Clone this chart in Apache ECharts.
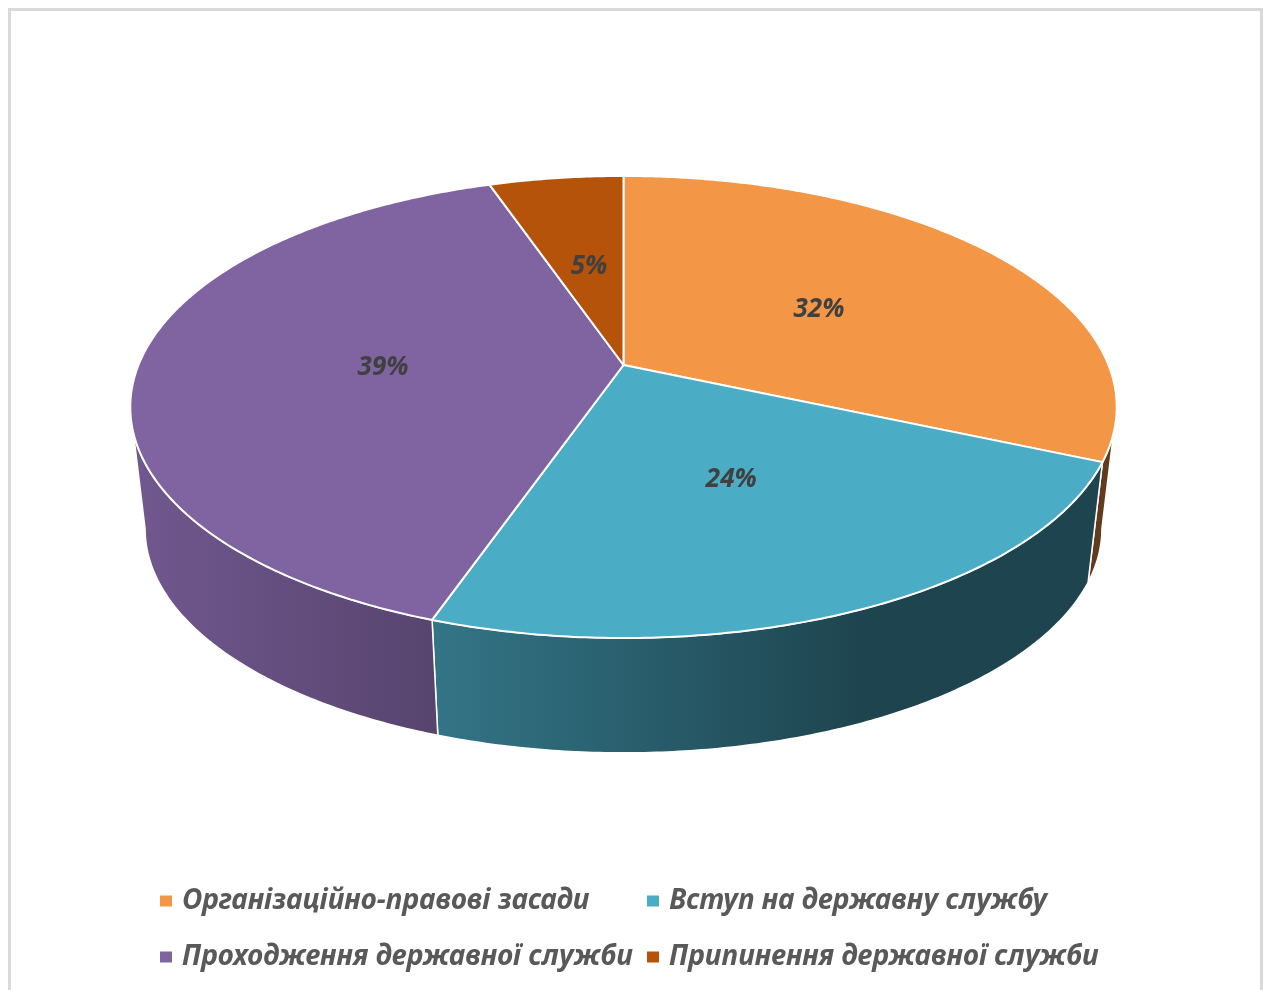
<!DOCTYPE html>
<html>
<head>
<meta charset="utf-8">
<style>
  html, body { margin: 0; padding: 0; background: #fff; }
  #frame { position: absolute; left: 8px; top: 8px; width: 1249px; height: 1000px; border: 3px solid #d9d9d9; }
  #main { position: absolute; left: 0; top: 0; width: 1265px; height: 990px; }
</style>
<script src="https://cdn.jsdelivr.net/npm/echarts@6/dist/echarts.min.js"></script>
</head>
<body>
<div id="frame"></div>
<div id="main"></div>
<script>
// дані діаграми
var categories = ['Організаційно-правові засади', 'Вступ на державну службу', 'Проходження державної служби', 'Припинення державної служби'];
var values = [31.6, 23.7, 39.45, 5.25];
var colors = ['#F39646', '#4BACC6', '#8064A2', '#B45309'];

(function () {
  var myChart = echarts.init(document.getElementById('main'));

  // параметри "3D" проекції
  var CX = 623.5, CY = 365, R = 485, A = 223.4, P = 0.1818, K = 0.97, D = 123;
  var total = values.reduce(function (a, b) { return a + b; }, 0);
  var thR = Math.acos(-P), thL = 2 * Math.PI - Math.acos(-P);

  // t = 0 верхня грань, t = 1 нижня
  function proj(th, r, t) {
    var s = Math.sin(th), c = Math.cos(th);
    var w = 1 + P * r * c;
    var k = t ? K : 1;
    return [CX + R * r * s / w * k, CY - A * r * c / w * k + D * t];
  }
  function shade(hex, k) {
    var n = parseInt(hex.slice(1), 16);
    var r = Math.round(((n >> 16) & 255) * k), g = Math.round(((n >> 8) & 255) * k), b = Math.round((n & 255) * k);
    return 'rgb(' + r + ',' + g + ',' + b + ')';
  }
  function arc(a0, a1, t) {
    var pts = [], steps = Math.max(2, Math.ceil((a1 - a0) / 0.01));
    for (var i = 0; i <= steps; i++) pts.push(proj(a0 + (a1 - a0) * i / steps, 1, t));
    return pts;
  }

  function renderItem(params, api) {
    var idx = params.dataIndex;
    var start = 0;
    for (var i = 0; i < idx; i++) start += values[i];
    var a0 = start / total * 2 * Math.PI;
    var a1 = (start + api.value(0)) / total * 2 * Math.PI;
    var color = colors[idx];
    var children = [];

    // верхня грань
    var top = [proj(0, 0, 0)].concat(arc(a0, a1, 0));
    children.push({
      type: 'polygon', z2: 10,
      shape: { points: top },
      style: { fill: color, stroke: '#fff', lineWidth: 2, lineJoin: 'round' }
    });

    // бічна стінка (тільки видима частина)
    var s0 = Math.max(a0, thR), s1 = Math.min(a1, thL);
    if (s1 > s0) {
      var side = arc(s0, s1, 0).concat(arc(s0, s1, 1).reverse());
      children.push({
        type: 'polygon', z2: 1,
        shape: { points: side },
        style: {
          fill: {
            type: 'linear', x: CX - 493, y: 0, x2: CX + 493, y2: 0, global: true,
            colorStops: [
              { offset: 0, color: shade(color, 0.88) },
              { offset: 0.74, color: shade(color, 0.40) },
              { offset: 1, color: shade(color, 0.40) }
            ]
          },
          stroke: '#fff', lineWidth: 1.5
        }
      });
    }

    // підпис відсотка
    var lp = proj((a0 + a1) / 2, 0.5, 0);
    children.push({
      type: 'text', z2: 20,
      x: lp[0] + 2, y: lp[1] + 3,
      style: {
        text: Math.round(api.value(0) / total * 100) + '%',
        font: 'italic bold 26px "Noto Sans"',
        fill: '#404040', align: 'center', verticalAlign: 'middle'
      }
    });
    return { type: 'group', children: children };
  }

  var legendText = { fontFamily: 'Noto Sans', fontSize: 28, fontStyle: 'italic', fontWeight: 'bold', color: '#595959', lineHeight: 32, padding: [0, 0, 0, 5] };
  var series = [{
    name: 'pie3d',
    type: 'custom',
    coordinateSystem: 'none',
    renderItem: renderItem,
    data: values.map(function (v, i) { return { value: v, name: categories[i] }; })
  }];
  // порожні серії для легенди
  categories.forEach(function (c, i) {
    series.push({ name: c, type: 'custom', coordinateSystem: 'none', renderItem: function () { return null; }, data: [], itemStyle: { color: colors[i] } });
  });

  var option = {
    animation: false,
    legend: [
      { data: [categories[0], categories[2]], orient: 'vertical', left: 155, top: 880, icon: 'rect', itemWidth: 12, itemHeight: 11, itemGap: 24, textStyle: legendText },
      { data: [categories[1], categories[3]], orient: 'vertical', left: 642, top: 880, icon: 'rect', itemWidth: 12, itemHeight: 11, itemGap: 24, textStyle: legendText }
    ],
    series: series
  };
  myChart.setOption(option);
  window.addEventListener('resize', function () {
    myChart.resize();
  });
})();
</script>
</body>
</html>
